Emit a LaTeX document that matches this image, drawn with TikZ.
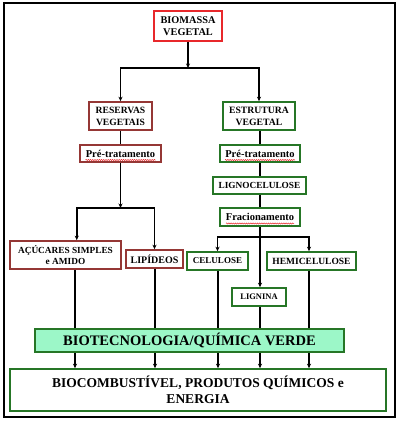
\documentclass[tikz,border=0pt]{standalone}
\usepackage{fontspec}
\setmainfont{Liberation Serif}
\usetikzlibrary{arrows.meta,calc,decorations.pathmorphing}
\definecolor{cred}{RGB}{232,40,43}
\definecolor{cdred}{RGB}{149,55,53}
\definecolor{cgreen}{RGB}{38,118,38}
\definecolor{cmint}{RGB}{156,247,200}
\begin{document}
\begin{tikzpicture}[x=1pt,y=-1pt,
  box/.style={draw,line width=1.6pt,inner sep=0pt,align=center,font=\bfseries\fontsize{9.5}{11}\selectfont},
  redbox/.style={box,draw=cred},
  dredbox/.style={box,draw=cdred},
  grbox/.style={box,draw=cgreen},
  conn/.style={line width=1.7pt,black},
  arr/.style={conn,-{Stealth[length=4.5pt,width=4pt]}},
  squig/.style={cred,line width=0.5pt,decorate,decoration={snake,amplitude=0.6pt,segment length=2.2pt}}
]
\useasboundingbox (0,0) rectangle (404,422);
\draw[line width=1.3pt] (4,3) rectangle (395,417);

\node[redbox,minimum width=68pt,minimum height=30pt,font=\bfseries\fontsize{10.3}{12.3}\selectfont] (bio) at (188,26) {BIOMASSA\\VEGETAL};
\node[dredbox,minimum width=63pt,minimum height=28pt,font=\bfseries\fontsize{9.6}{12}\selectfont] (res) at (120.5,116) {RESERVAS\\VEGETAIS};
\node[grbox,minimum width=72pt,minimum height=28pt,font=\bfseries\fontsize{9.7}{12}\selectfont] (est) at (259,116) {ESTRUTURA\\VEGETAL};
\node[dredbox,minimum width=81pt,minimum height=17pt,font=\bfseries\fontsize{10.5}{12}\selectfont] (pre1) at (120.5,153.5) {Pré-tratamento};
\node[grbox,minimum width=80pt,minimum height=17pt,font=\bfseries\fontsize{10.5}{12}\selectfont] (pre2) at (260,153.5) {Pré-tratamento};
\node[grbox,minimum width=93pt,minimum height=17pt,font=\bfseries\fontsize{9.3}{11}\selectfont] (ligno) at (259.5,185.5) {LIGNOCELULOSE};
\node[grbox,minimum width=80pt,minimum height=18pt,font=\bfseries\fontsize{10.5}{12}\selectfont] (frac) at (260,217) {Fracionamento};
\node[dredbox,minimum width=111pt,minimum height=28pt,font=\bfseries\fontsize{9.3}{11}\selectfont] (acu) at (65.5,255) {AÇÚCARES SIMPLES\\e AMIDO};
\node[dredbox,minimum width=57pt,minimum height=18pt,font=\bfseries\fontsize{10}{11}\selectfont] (lip) at (154.5,259) {LIPÍDEOS};
\node[grbox,minimum width=61pt,minimum height=18pt,font=\bfseries\fontsize{9}{11}\selectfont] (cel) at (217.5,261) {CELULOSE};
\node[grbox,minimum width=89pt,minimum height=18pt,font=\bfseries\fontsize{9.5}{11}\selectfont] (hemi) at (311.5,261) {HEMICELULOSE};
\node[grbox,minimum width=54pt,minimum height=18pt,font=\bfseries\fontsize{8.5}{10}\selectfont] (lig) at (259,297) {LIGNINA};
\node[grbox,fill=cmint,minimum width=309pt,minimum height=23pt,font=\bfseries\fontsize{14.5}{16}\selectfont] (bt) at (189.5,340.5) {BIOTECNOLOGIA/QUÍMICA VERDE};
\node[grbox,minimum width=376pt,minimum height=42pt,font=\bfseries\fontsize{13.5}{15.7}\selectfont] (fin) at (198,390) {BIOCOMBUSTÍVEL, PRODUTOS QUÍMICOS e\\ENERGIA};

% spell-check squiggles
\draw[squig] ($(pre1.center)+(-35,6.5)$) -- ($(pre1.center)+(35,6.5)$);
\draw[squig] ($(pre2.center)+(-35,6.5)$) -- ($(pre2.center)+(35,6.5)$);
\draw[squig] ($(frac.center)+(-34,6.5)$) -- ($(frac.center)+(34,6.5)$);

% junctions
\coordinate (j1) at (188,68);
\coordinate (j2) at (120.5,208);
\coordinate (j3) at (260,237);
\coordinate (cA) at (75,0);
\coordinate (cB) at (155,0);
\coordinate (cC) at (218,0);
\coordinate (cD) at (260,0);
\coordinate (cE) at (309,0);

\draw[arr] (bio) -- (j1);
\draw[arr] (j1) -| (res);
\draw[arr] (j1) -| (est);
\draw[conn] (res) -- (pre1);
\draw[conn] (est.south -| pre2) -- (pre2);
\draw[conn] (pre2) -- (ligno.north -| pre2);
\draw[conn] (ligno.south -| frac) -- (frac);
\draw[arr] (pre1) -- (j2);
\draw[arr] (j2) -| ($(acu.north west)!0.6!(acu.north east)$);
\draw[arr] (j2) -| (lip);
\draw[arr] (frac) -- (lig.north -| frac);
\draw[arr] (j3) -| (cel);
\draw[arr] (j3) -| (cE |- hemi.north);

\foreach \c/\n in {cA/acu,cB/lip,cC/cel,cD/lig,cE/hemi}{
  \draw[conn] (\c |- \n.south) -- (\c |- bt.north);
  \draw[arr] (\c |- bt.south) -- (\c |- fin.north);
}
\end{tikzpicture}
\end{document}
